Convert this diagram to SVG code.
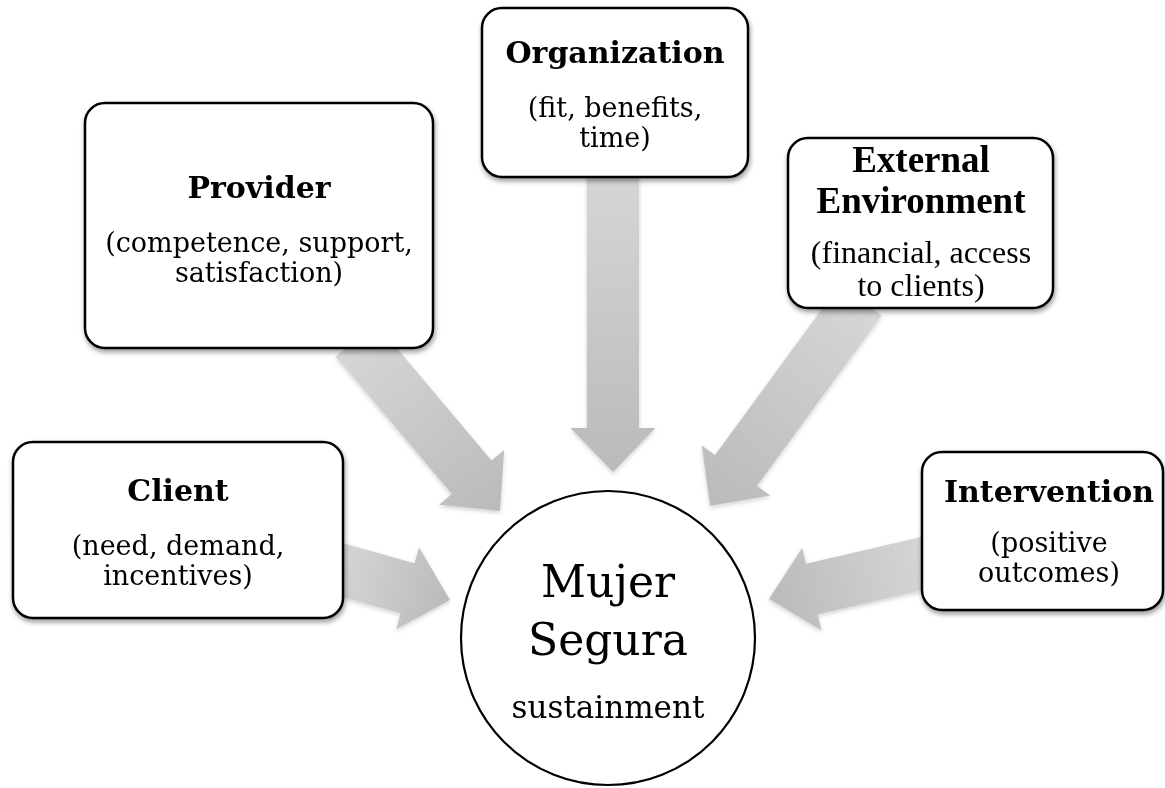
<svg xmlns="http://www.w3.org/2000/svg" width="1165" height="788" viewBox="0 0 1165 788">
  <defs>
    <!-- shared fill for the block arrows: light at the tail, darker toward the head -->
    <linearGradient id="arrowFill" x1="0" y1="0" x2="1" y2="0">
      <stop offset="0" stop-color="#d6d6d6"/>
      <stop offset="1" stop-color="#bababa"/>
    </linearGradient>
    <filter id="boxShadow" x="-10%" y="-10%" width="125%" height="130%">
      <feDropShadow dx="1" dy="3" stdDeviation="2.5" flood-color="#000" flood-opacity="0.4"/>
    </filter>
    <filter id="arrowShadow" x="-10%" y="-10%" width="120%" height="120%">
      <feDropShadow dx="0" dy="2" stdDeviation="2" flood-color="#000" flood-opacity="0.18"/>
    </filter>
  </defs>
  <style>
    .box { fill: #ffffff; stroke: #000000; stroke-width: 2.5; filter: url(#boxShadow); }
    .hub { fill: #ffffff; stroke: #000000; stroke-width: 2.2; }
    .arrow { fill: url(#arrowFill); }
    .title { font-family: "DejaVu Serif", serif; font-weight: bold; font-size: 30px; text-anchor: middle; fill: #000; }
    .sub { font-family: "DejaVu Serif", serif; font-size: 27px; text-anchor: middle; fill: #000; }
    .titleT { font-family: "Liberation Serif", "Times New Roman", serif; font-weight: bold; font-size: 37px; text-anchor: middle; fill: #000; }
    .subT { font-family: "Liberation Serif", "Times New Roman", serif; font-size: 32px; text-anchor: middle; fill: #000; }
    .hubMain { font-family: "DejaVu Serif", serif; font-size: 44px; text-anchor: middle; fill: #000; }
    .hubSub { font-family: "DejaVu Serif", serif; font-size: 31px; text-anchor: middle; fill: #000; }
  </style>

  <!-- block arrows, each drawn pointing along +x with its tip at the origin -->
  <g id="connectors" filter="url(#arrowShadow)">
    <polygon class="arrow" transform="translate(613,472) rotate(90)" points="-302,-26 -44,-26 -44,-42.5 0,0 -44,42.5 -44,26 -302,26"/>
    <polygon class="arrow" transform="translate(500,511) rotate(49.9)" points="-224,-26 -44,-26 -44,-42.5 0,0 -44,42.5 -44,26 -224,26"/>
    <polygon class="arrow" transform="translate(710,506) rotate(126.2)" points="-255,-26 -44,-26 -44,-42.5 0,0 -44,42.5 -44,26 -255,26"/>
    <polygon class="arrow" transform="translate(450,600) rotate(15.55)" points="-120,-26 -44,-26 -44,-42.5 0,0 -44,42.5 -44,26 -120,26"/>
    <polygon class="arrow" transform="translate(769,599) rotate(166.94)" points="-166,-26 -44,-26 -44,-42.5 0,0 -44,42.5 -44,26 -166,26"/>
  </g>

  <g id="provider">
    <rect class="box" x="85" y="103" width="348" height="245" rx="20"/>
    <text class="title" x="259" y="198">Provider</text>
    <text class="sub" x="259" y="252">(competence, support,</text>
    <text class="sub" x="259" y="282">satisfaction)</text>
  </g>

  <g id="organization">
    <rect class="box" x="482" y="8" width="266" height="169" rx="20"/>
    <text class="title" x="615" y="63">Organization</text>
    <text class="sub" x="615" y="117">(fit, benefits,</text>
    <text class="sub" x="615" y="147">time)</text>
  </g>

  <g id="external-environment">
    <rect class="box" x="788" y="138" width="265" height="170" rx="20"/>
    <text class="titleT" x="921" y="172">External</text>
    <text class="titleT" x="921" y="213">Environment</text>
    <text class="subT" x="921" y="263">(financial, access</text>
    <text class="subT" x="921" y="296">to clients)</text>
  </g>

  <g id="client">
    <rect class="box" x="13" y="442" width="330" height="176" rx="20"/>
    <text class="title" x="178" y="501">Client</text>
    <text class="sub" x="178" y="555">(need, demand,</text>
    <text class="sub" x="178" y="585">incentives)</text>
  </g>

  <g id="intervention">
    <rect class="box" x="922" y="452" width="241" height="158" rx="20"/>
    <text class="title" x="1049" y="502">Intervention</text>
    <text class="sub" x="1049" y="552">(positive</text>
    <text class="sub" x="1049" y="582">outcomes)</text>
  </g>

  <g id="mujer-segura">
    <circle class="hub" cx="608" cy="638" r="147"/>
    <text class="hubMain" x="608" y="597">Mujer</text>
    <text class="hubMain" x="608" y="655">Segura</text>
    <text class="hubSub" x="608" y="718">sustainment</text>
  </g>
</svg>
